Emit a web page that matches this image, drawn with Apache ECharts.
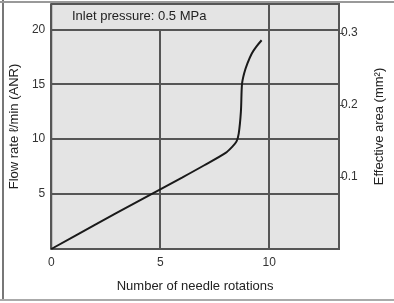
<!DOCTYPE html>
<html>
<head>
<meta charset="utf-8">
<script src="https://cdn.jsdelivr.net/npm/echarts@6/dist/echarts.min.js"></script>
<style>
  html, body { margin: 0; padding: 0; background: #fff; }
  #chart { width: 394px; height: 303px; }
</style>
</head>
<body>
<div id="chart"></div>
<script>
// needle rotations vs flow rate (l/min ANR)
let rotations = [0, 2, 4, 6, 7, 8, 8.3, 8.5, 8.6, 8.7, 8.75, 8.85, 9.0, 9.2, 9.4, 9.65];
let flowRate = [0, 2.2, 4.35, 6.5, 7.6, 8.75, 9.3, 9.8, 10.5, 12.5, 15, 16, 16.9, 17.8, 18.4, 19.0];
let flowTicks = [5, 10, 15, 20];
let rotationTicks = [0, 5, 10];
let areaTicks = [0.1, 0.2, 0.3];

let myChart = echarts.init(document.getElementById('chart'));
let textColor = '#333';
let lineColor = '#555';

let option = {
    animation: false,
    textStyle: { fontFamily: 'Liberation Sans' },
    title: {
        text: 'Inlet pressure: 0.5 MPa',
        left: 69,
        top: 5,
        padding: [5, 3, 6, 3],
        backgroundColor: '#e4e4e4',
        textStyle: { fontSize: 13, fontWeight: 'normal', color: '#222' }
    },
    grid: {
        left: 50, right: 49, top: 4, bottom: 54,
        show: true,
        backgroundColor: '#e4e4e4',
        borderColor: lineColor,
        borderWidth: 2
    },
    xAxis: {
        type: 'value',
        min: 0, max: 13.2, interval: 5,
        name: 'Number of needle rotations',
        nameLocation: 'middle',
        nameGap: 31,
        nameTextStyle: { fontSize: 13, color: '#222' },
        axisLine: { show: false },
        axisTick: { show: false },
        axisLabel: { fontSize: 12, color: textColor, margin: 8, customValues: rotationTicks },
        splitLine: { lineStyle: { color: lineColor, width: 2 } }
    },
    yAxis: [
        {
            type: 'value',
            min: 0, max: 22.3, interval: 5,
            name: 'Flow rate \u2113/min (ANR)',
            nameLocation: 'middle',
            nameRotate: 90,
            nameGap: 29,
            nameTextStyle: { fontSize: 13, color: '#222' },
            axisLine: { show: false },
            axisTick: { show: false },
            axisLabel: { fontSize: 12, color: textColor, margin: 6, customValues: flowTicks },
            splitLine: { lineStyle: { color: lineColor, width: 2 } }
        },
        {
            type: 'value',
            position: 'right',
            min: 0, max: 0.34, interval: 0.1,
            name: 'Effective area (mm\u00b2)',
            nameLocation: 'middle',
            nameRotate: 90,
            nameGap: 34,
            nameTextStyle: { fontSize: 13, color: '#222' },
            axisLine: { show: false },
            axisTick: { show: true, length: 5, customValues: areaTicks, lineStyle: { color: lineColor } },
            axisLabel: {
                fontSize: 12, color: textColor, margin: 2, customValues: areaTicks,
                formatter: function (v) { return v.toFixed(1); }
            },
            splitLine: { show: false }
        }
    ],
    series: [{
        type: 'line',
        data: rotations.map(function (x, i) { return [x, flowRate[i]]; }),
        smooth: 0.3,
        showSymbol: false,
        lineStyle: { color: '#1a1a1a', width: 2 }
    }],
    graphic: [
        { type: 'line', shape: { x1: 3, y1: 0, x2: 3, y2: 301 }, style: { stroke: '#777', lineWidth: 2 } },
        { type: 'line', shape: { x1: 0, y1: 2, x2: 394, y2: 2 }, style: { stroke: '#999', lineWidth: 2 } },
        { type: 'line', shape: { x1: 0, y1: 300, x2: 394, y2: 300 }, style: { stroke: '#aaa', lineWidth: 2 } }
    ]
};
myChart.setOption(option);
</script>
</body>
</html>
